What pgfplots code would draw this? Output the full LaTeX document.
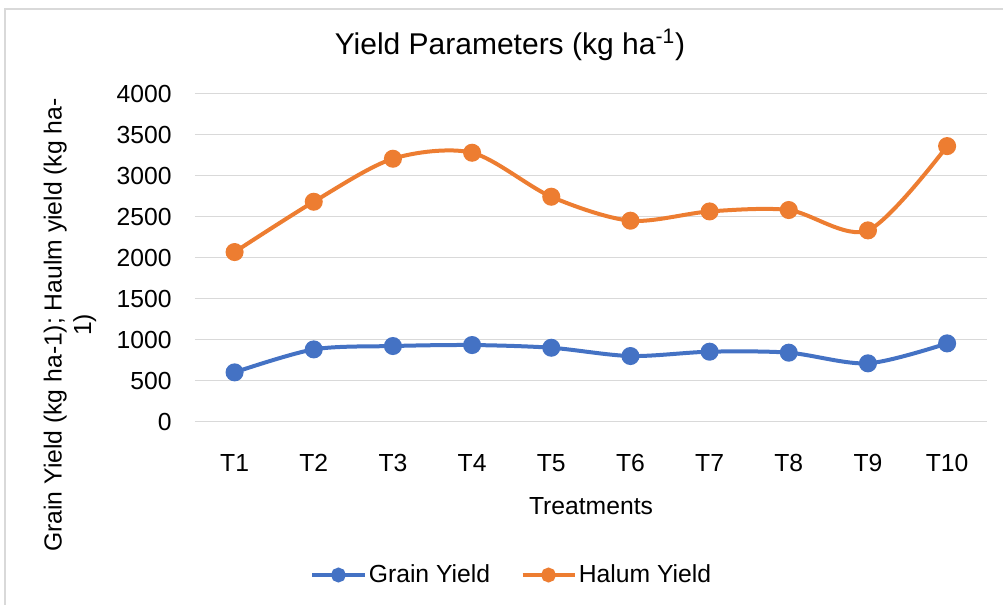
\documentclass[border=0pt]{standalone}
\usepackage{pgfplots}
\pgfplotsset{compat=1.18}
\usepackage{fontspec}
\setmainfont{Liberation Sans}
\definecolor{cblue}{HTML}{4472C4}
\definecolor{corange}{HTML}{ED7D31}
\definecolor{cgrid}{HTML}{D9D9D9}
\begin{document}
\fontsize{12.35}{14.8}\selectfont
\begin{tikzpicture}
\useasboundingbox (-97.5pt,-91.65pt) rectangle (404pt,210.85pt);
\begin{axis}[
  scale only axis,
  width=395.85pt, height=164.15pt,
  xmin=0.5, xmax=10.5, ymin=0, ymax=4000,
  xtick={1,...,10},
  xticklabels={T1,T2,T3,T4,T5,T6,T7,T8,T9,T10},
  ytick={0,500,...,4000},
  ymajorgrids, grid style={cgrid, line width=0.7pt},
  axis line style={draw=none},
  major tick length=0pt,
  /pgf/number format/assume math mode=true,
  /pgf/number format/1000 sep={},
  yticklabel style={anchor=base east, inner sep=0pt, xshift=-11.5pt, yshift=-4.4pt, font=\fontsize{12.35}{14.8}\selectfont},
  xticklabel style={anchor=base, inner sep=0pt, yshift=-25.1pt, font=\fontsize{12.35}{14.8}\selectfont},
  legend style={draw=none, at={(0.4004,-0.467)}, anchor=center, legend columns=2,
    font=\fontsize{12.35}{14.8}\selectfont, nodes={inner sep=1.2pt},
    /tikz/every even column/.append style={column sep=14pt}},
  legend image code/.code={\draw[mark repeat=2,mark phase=2,#1,mark size=2.7pt] plot coordinates {(0pt,0pt) (13pt,0pt) (26pt,0pt)};},
  every axis plot/.append style={line width=2pt, mark=*, mark size=3.5pt, smooth, tension=0.5},
]
\addplot[cblue, mark options={fill=cblue, draw=cblue}] coordinates {
 (1,601) (2,881) (3,922) (4,934) (5,901) (6,800) (7,853) (8,841) (9,711) (10,954)};
\addlegendentry{Grain Yield}
\addplot[corange, mark options={fill=corange, draw=corange}] coordinates {
 (1,2067) (2,2680) (3,3204) (4,3277) (5,2741) (6,2449) (7,2562) (8,2579) (9,2331) (10,3358)};
\addlegendentry{Halum Yield}
\end{axis}
\node[font=\fontsize{15}{18}\selectfont] at (157.5pt,188.35pt) {Yield Parameters (kg ha\textsuperscript{-1})};
\node at (198pt,-42.15pt) {Treatments};
\node[rotate=90, align=center, inner sep=0pt] at (-62.5pt,48.35pt) {Grain Yield (kg ha-1); Haulm yield (kg ha-\\1)};
\draw[cgrid, line width=0.8pt] (-95pt,-100pt) -- (-95pt,206.35pt) -- (420pt,206.35pt);
\end{tikzpicture}
\end{document}
